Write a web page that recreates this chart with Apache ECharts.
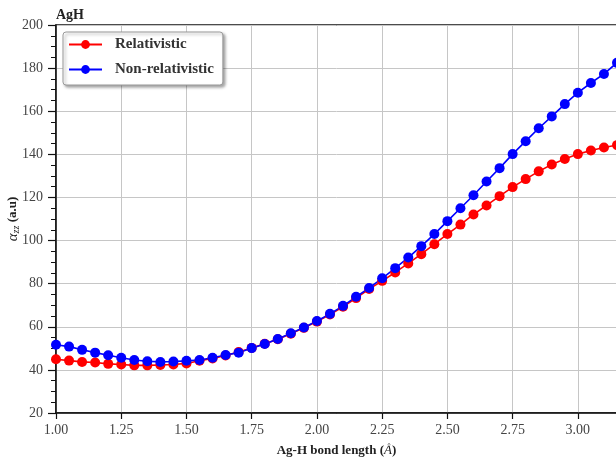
<!DOCTYPE html>
<html>
<head>
<meta charset="utf-8">
<script src="https://cdn.jsdelivr.net/npm/echarts@6/dist/echarts.min.js"></script>
<style>html,body{margin:0;padding:0;background:#fff;}#c{width:616px;height:457px;}</style>
</head>
<body>
<div id="c"></div>
<script>
const bondLength = [1.00,1.05,1.10,1.15,1.20,1.25,1.30,1.35,1.40,1.45,1.50,1.55,1.60,1.65,1.70,1.75,1.80,1.85,1.90,1.95,2.00,2.05,2.10,2.15,2.20,2.25,2.30,2.35,2.40,2.45,2.50,2.55,2.60,2.65,2.70,2.75,2.80,2.85,2.90,2.95,3.00,3.05,3.10,3.15];
const relativistic = [44.9,44.3,43.7,43.4,42.8,42.5,42.1,42.1,42.3,42.5,43.0,44.2,45.3,46.7,48.3,50.2,52.1,54.2,56.8,59.5,62.4,65.7,69.3,73.3,77.5,81.3,85.2,89.4,93.7,98.3,103.0,107.4,112.1,116.3,120.6,124.8,128.5,132.1,135.3,137.8,140.1,141.8,143.2,144.3];
const nonRelativistic = [51.7,50.8,49.3,48.0,46.8,45.6,44.6,44.0,43.7,43.9,44.2,44.6,45.6,46.9,48.0,50.1,52.0,54.3,57.0,59.7,62.7,66.0,69.7,73.9,78.0,82.5,87.2,92.1,97.4,103.0,109.0,115.0,121.0,127.4,133.6,140.1,146.1,152.1,157.6,163.3,168.6,173.1,177.3,182.5];
const seriesNames = ['Relativistic','Non-relativistic'];
const xTickInterval = 0.25;
const yTickInterval = 20;

const FONT = 'Liberation Serif';
const chart = echarts.init(document.getElementById('c'), null, {renderer:'canvas'});
function pairs(ys){ return bondLength.map((x,i)=>[x, ys[i]]); }

chart.setOption({
  animation:false,
  backgroundColor:'#fff',
  title:{
    text:'AgH', left:51, top:3,
    textStyle:{fontFamily:FONT, fontWeight:'bold', fontSize:14, color:'#222'}
  },
  legend:{
    data:seriesNames,
    orient:'vertical',
    left:63, top:32,
    itemWidth:33, itemHeight:11, itemGap:10,
    padding:[5,9,8,5],
    backgroundColor:'#fff',
    borderColor:'#9a9a9a', borderWidth:1, borderRadius:3,
    shadowBlur:3, shadowOffsetX:2, shadowOffsetY:2, shadowColor:'rgba(0,0,0,0.35)',
    textStyle:{fontFamily:FONT, fontWeight:'bold', fontSize:15, color:'#333', padding:[0,0,0,8]}
  },
  grid:{
    left:56, top:25, right:-1, bottom:44,
    outerBoundsMode:'none', containLabel:false,
    show:true, borderColor:'#111', borderWidth:1.5, backgroundColor:'transparent'
  },
  xAxis:{
    type:'value', min:1.0, max:3.15, interval:xTickInterval,
    name:'{b|Ag-H bond length (}{i|Å}{b|)}',
    nameLocation:'middle', nameGap:31, nameMoveOverlap:false,
    nameTextStyle:{rich:{
      b:{fontFamily:FONT, fontWeight:'bold', fontSize:13, color:'#222'},
      i:{fontFamily:FONT, fontStyle:'italic', fontSize:13, color:'#222'}
    }},
    axisLine:{show:true, onZero:false, lineStyle:{color:'#111', width:1.5}},
    axisTick:{show:true, inside:false, length:6, lineStyle:{color:'#111', width:1.2}},
    axisLabel:{
      fontFamily:FONT, fontSize:14, color:'#444', margin:10,
      showMaxLabel:false,
      formatter:v=>Math.abs(v-3.15)<1e-6 ? '' : v.toFixed(2)
    },
    splitLine:{show:true, lineStyle:{color:'#c6c6c6', width:1}}
  },
  yAxis:{
    type:'value', min:20, max:200, interval:yTickInterval,
    name:'{a|α}{s|zz} {b|(a.u)}',
    nameLocation:'middle', nameGap:35, nameRotate:90, nameMoveOverlap:false,
    nameTextStyle:{rich:{
      a:{fontFamily:FONT, fontStyle:'italic', fontSize:15, color:'#222'},
      s:{fontFamily:FONT, fontStyle:'italic', fontSize:10, color:'#222', padding:[6,0,0,0]},
      b:{fontFamily:FONT, fontWeight:'bold', fontSize:13, color:'#222'}
    }},
    axisLine:{show:true, onZero:false, lineStyle:{color:'#111', width:1.5}},
    axisTick:{show:true, inside:false, length:8, lineStyle:{color:'#111', width:1.2}},
    minorTick:{show:true, splitNumber:4, length:5, lineStyle:{color:'#111', width:1}},
    axisLabel:{fontFamily:FONT, fontSize:14, color:'#444', margin:13},
    splitLine:{show:true, lineStyle:{color:'#c6c6c6', width:1}}
  },
  series:[
    {
      name:seriesNames[0], type:'line', data:pairs(relativistic),
      symbol:'circle', symbolSize:10, clip:false,
      lineStyle:{color:'#ff0000', width:1.6},
      itemStyle:{color:'#ff0000'}
    },
    {
      name:seriesNames[1], type:'line', data:pairs(nonRelativistic),
      symbol:'circle', symbolSize:10, clip:false,
      lineStyle:{color:'#0000ff', width:1.6},
      itemStyle:{color:'#0000ff'}
    }
  ]
});
</script>
</body>
</html>
